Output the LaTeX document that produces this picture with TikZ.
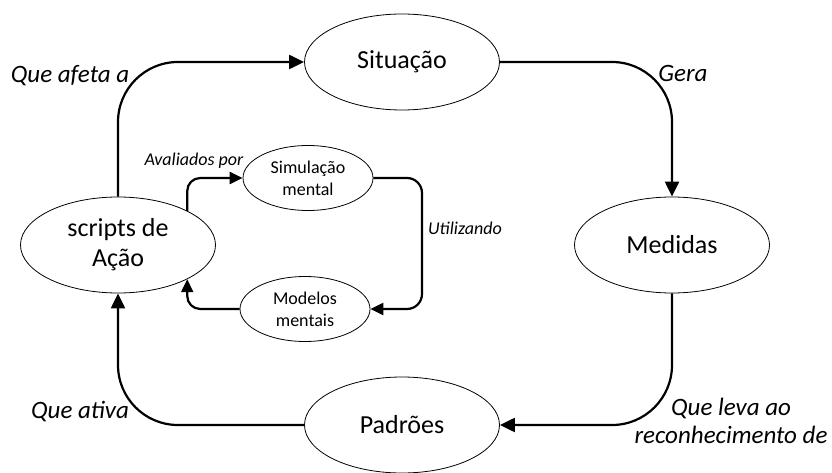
\documentclass[tikz,border=0pt]{standalone}
\usepackage{fontspec}
\setmainfont{Carlito}
\usetikzlibrary{shapes.geometric,arrows.meta}
\begin{document}
\begin{tikzpicture}[x=1pt,y=-1pt,
  ell/.style={ellipse,draw,line width=0.8pt,inner sep=0pt,align=center},
  big/.style={ell,minimum width=195pt,minimum height=96pt,font=\fontsize{26}{30}\selectfont},
  small/.style={ell,minimum width=130pt,minimum height=65pt,font=\fontsize{18}{22}\selectfont},
  outer/.style={line width=2.2pt,rounded corners=60pt,-{Triangle[length=15pt,width=14pt]}},
  innerarr/.style={line width=2.2pt,rounded corners=13pt,-{Triangle[length=13pt,width=12pt]}},
  lab/.style={font=\fontsize{25}{29}\selectfont\itshape,inner sep=0pt,align=center},
  slab/.style={font=\fontsize{18}{21}\selectfont\itshape,inner sep=0pt}]
\useasboundingbox (0,0) rectangle (832,473);
\node[big] (sit) at (402,62) {Situação};
\node[big] (med) at (672,245) {Medidas};
\node[big] (pad) at (402,425) {Padrões};
\node[big] (scr) at (118,245) {scripts de\\Ação};
\node[small] (sim) at (308,178) {Simulação\\mental};
\node[small] (mod) at (305,309) {Modelos\\mentais};
\coordinate (r) at (422,245);
\draw[outer] (scr.north) |- (sit.west);
\draw[outer] (sit.east) -| (med.north);
\draw[outer] (med.south) |- (pad.east);
\draw[outer] (pad.west) -| (scr.south);
\draw[innerarr] (scr.north east) |- (sim.west);
\draw[innerarr,rounded corners=15pt] (sim.east) -| (r) |- (mod.east);
\draw[innerarr] (mod.west) -| (scr.south east);
\node[lab] (l1) at (70,76) {Que afeta a};
\node[lab] (l2) at (683,73) {Gera};
\node[lab,font=\fontsize{25}{28}\selectfont\itshape] (l3) at (731,421) {Que leva ao\\reconhecimento de};
\node[lab] (l4) at (80,412) {Que ativa};
\node[slab] (l5) at (194,161) {Avaliados por};
\node[slab] (l6) at (465,228) {Utilizando};
\end{tikzpicture}
\end{document}
